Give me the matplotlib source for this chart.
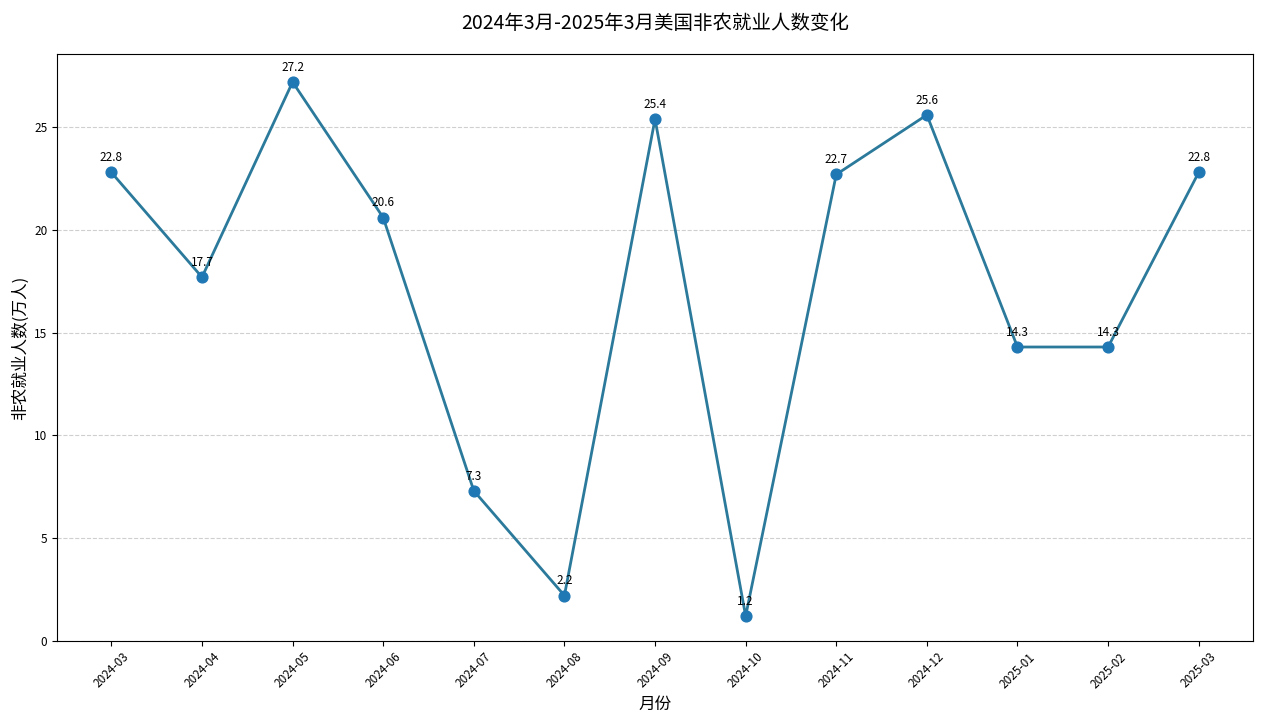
import matplotlib
matplotlib.use("Agg")
import matplotlib.pyplot as plt

plt.rcParams["font.family"] = ["Noto Sans CJK SC", "DejaVu Sans"]
plt.rcParams["axes.unicode_minus"] = False

# 美国非农就业人数（万人）
months = ["2024-03", "2024-04", "2024-05", "2024-06", "2024-07", "2024-08", "2024-09",
          "2024-10", "2024-11", "2024-12", "2025-01", "2025-02", "2025-03"]
jobs = [22.8, 17.7, 27.2, 20.6, 7.3, 2.2, 25.4, 1.2, 22.7, 25.6, 14.3, 14.3, 22.8]

fig, ax = plt.subplots(figsize=(12.67, 7.24), dpi=100)
fig.subplots_adjust(left=0.045, right=0.989, top=0.925, bottom=0.115)

x = range(len(months))
ax.plot(x, jobs, color="#2b7a9b", linewidth=2, zorder=3)
ax.scatter(x, jobs, color="#1f77b4", s=60, zorder=4)

for xi, v in zip(x, jobs):
    ax.annotate(f"{v}", (xi, v), textcoords="offset points", xytext=(0, 8),
                ha="center", fontsize=8.5)

ax.set_xticks(list(x))
ax.set_xticklabels(months, rotation=45, fontsize=8.5)
ax.tick_params(axis="y", labelsize=8.5)
ax.set_ylim(0, 28.55)
ax.grid(axis="y", linestyle="--", alpha=0.6)

ax.set_title("2024年3月-2025年3月美国非农就业人数变化", fontsize=14, pad=18)
ax.set_xlabel("月份", fontsize=12)
ax.set_ylabel("非农就业人数(万人)", fontsize=12)

fig.savefig("out.png")
